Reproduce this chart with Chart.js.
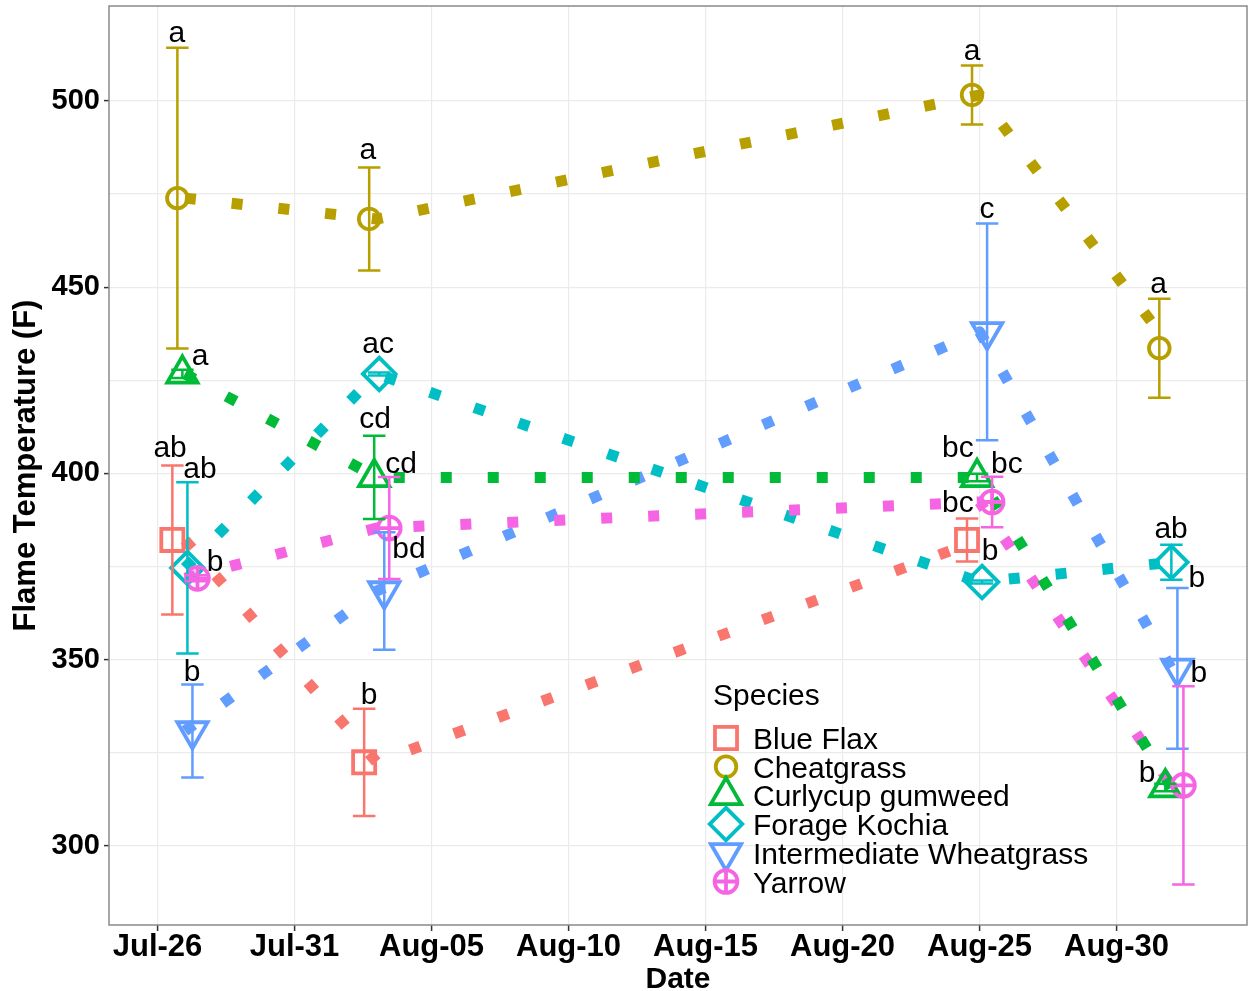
<!DOCTYPE html>
<html>
<head>
<meta charset="utf-8">
<script src="https://cdn.jsdelivr.net/npm/chart.js@4.4.1/dist/chart.umd.min.js"></script>
<style>
html,body{margin:0;padding:0;background:#fff;}
#wrap{width:1248px;height:991px;position:relative;}
canvas{display:block;}
</style>
</head>
<body>
<div id="wrap"><canvas id="c" width="1248" height="991"></canvas></div>
<script>
// ---------- data ----------
const species = ['Blue Flax','Cheatgrass','Curlycup gumweed','Forage Kochia','Intermediate Wheatgrass','Yarrow'];
const sampleDays = [1, 8, 30, 37];          // days after Jul-26: Jul-27, Aug-03, Aug-25, Sep-01
const tickDays = [0, 5, 10, 15, 20, 25, 30, 35];
const tickLabels = ['Jul-26','Jul-31','Aug-05','Aug-10','Aug-15','Aug-20','Aug-25','Aug-30'];
const yTickValues = [300, 350, 400, 450, 500];

const blueFlaxMean      = [382.1, 322.4, 382.1, null];
const cheatgrassMean    = [473.9, 468.3, 501.6, 433.6];
const curlycupMean      = [426.7, 398.9, 398.9, 315.6];
const forageKochiaMean  = [374.6, 426.7, 370.8, 376.1];
const intWheatgrassMean = [330.8, 368.4, 438.0, 347.6];
const yarrowMean        = [371.8, 385.3, 392.3, 316.2];

const blueFlaxSE      = [20.0, 14.4, 5.8, null];
const cheatgrassSE    = [40.4, 13.8, 7.9, 13.3];
const curlycupSE      = [1.1, 11.2, 1.0, 1.0];
const forageKochiaSE  = [23.0, 0.4, 0.4, 4.7];
const intWheatgrassSE = [12.5, 15.8, 29.1, 21.6];
const yarrowSE        = [0.8, 13.7, 6.8, 26.6];

const blueFlaxLetters      = ['ab','b','bc',null];
const cheatgrassLetters    = ['a','a','a','a'];
const curlycupLetters      = ['a','cd','bc','b'];
const forageKochiaLetters  = ['ab','ac','b','ab'];
const intWheatgrassLetters = ['b','bd','c','b'];
const yarrowLetters        = ['b','cd','bc','b'];

// letter anchors in data units [day, value]
const blueFlaxLabelAt      = [[0.46,404.4],[7.72,338.0],[29.21,389.7],null];
const cheatgrassLabelAt    = [[0.71,515.7],[7.68,484.4],[29.73,511.0],[36.53,448.4]];
const curlycupLabelAt      = [[1.55,429.1],[7.94,412.1],[29.21,404.4],[36.11,317.1]];
const forageKochiaLabelAt  = [[1.55,398.7],[8.05,432.3],[30.38,376.7],[36.99,382.6]];
const intWheatgrassLabelAt = [[1.26,344.3],[9.18,377.2],[30.27,468.6],[37.93,369.4]];
const yarrowLabelAt        = [[2.10,373.8],[8.89,400.1],[31.00,400.1],[38.00,344.0]];

// ---------- assembly ----------
const means   = [blueFlaxMean, cheatgrassMean, curlycupMean, forageKochiaMean, intWheatgrassMean, yarrowMean];
const ses     = [blueFlaxSE, cheatgrassSE, curlycupSE, forageKochiaSE, intWheatgrassSE, yarrowSE];
const letters = [blueFlaxLetters, cheatgrassLetters, curlycupLetters, forageKochiaLetters, intWheatgrassLetters, yarrowLetters];
const labelAt = [blueFlaxLabelAt, cheatgrassLabelAt, curlycupLabelAt, forageKochiaLabelAt, intWheatgrassLabelAt, yarrowLabelAt];

const colors = ['#F8766D','#B79F00','#00BA38','#00BFC4','#619CFF','#F564E3'];
const shapes = [
  {pointStyle:'rect', radius:15.6, rotation:0},
  {pointStyle:'circle', radius:10.3, rotation:0},
  {pointStyle:'triangle', radius:17.5, rotation:0},
  {pointStyle:'rectRot', radius:16.3, rotation:0},
  {pointStyle:'triangle', radius:17.5, rotation:180},
  {pointStyle:'circle', radius:11.4, rotation:0, cross:true}
];
const dodgeWidth = 1.1;
const capHalf = 0.41;
const PW = 3.8;

function dodgedX(s, j) {
  let n = 0, idx = 0;
  for (let k = 0; k < means.length; k++) {
    if (means[k][j] != null) { if (k < s) idx++; n++; }
  }
  return sampleDays[j] + (idx - (n - 1) / 2) * dodgeWidth / n;
}

const lineOrder = [20, 19, 15, 18, 17, 16];
const datasets = [];
species.forEach((name, s) => {
  const lineData = [];
  means[s].forEach((v, j) => { if (v != null) lineData.push({x: sampleDays[j], y: v}); });
  datasets.push({
    label: name + ' line', data: lineData, borderColor: colors[s], borderWidth: 11,
    borderDash: [11, 36], borderCapStyle: 'butt', borderJoinStyle: 'round',
    pointRadius: 0, fill: false, tension: 0, order: lineOrder[s]
  });
});
species.forEach((name, s) => {
  const ptData = [];
  means[s].forEach((v, j) => { if (v != null) ptData.push({x: dodgedX(s, j), y: v}); });
  datasets.push({
    label: name, data: ptData, showLine: false,
    pointStyle: shapes[s].pointStyle, pointRadius: shapes[s].radius, pointRotation: shapes[s].rotation,
    pointBorderWidth: PW, pointBorderColor: colors[s], pointBackgroundColor: 'rgba(0,0,0,0)',
    borderColor: colors[s], order: 6 - s
  });
  if (shapes[s].cross) {
    datasets.push({
      label: name + ' cross', data: ptData, showLine: false,
      pointStyle: 'cross', pointRadius: shapes[s].radius, pointBorderWidth: PW,
      pointBorderColor: colors[s], pointBackgroundColor: 'rgba(0,0,0,0)', borderColor: colors[s], order: -1
    });
  }
});

const yGridValues = [];
for (let i = 0; i < yTickValues.length; i++) {
  yGridValues.push(yTickValues[i]);
  if (i < yTickValues.length - 1) yGridValues.push((yTickValues[i] + yTickValues[i + 1]) / 2);
}

// ---------- plugins ----------
const errorBars = {
  id: 'errorBars',
  afterDatasetsDraw(chart) {
    const {ctx, scales: {x, y}} = chart;
    ctx.save();
    ctx.lineWidth = 2.5; ctx.lineCap = 'butt';
    means.forEach((arr, s) => {
      arr.forEach((v, j) => {
        if (v == null) return;
        const xd = dodgedX(s, j), e = ses[s][j];
        const px = x.getPixelForValue(xd);
        const x0 = x.getPixelForValue(xd - capHalf), x1 = x.getPixelForValue(xd + capHalf);
        const yt = y.getPixelForValue(v + e), yb = y.getPixelForValue(v - e);
        ctx.strokeStyle = colors[s];
        ctx.beginPath();
        ctx.moveTo(px, yt); ctx.lineTo(px, yb);
        ctx.moveTo(x0, yt); ctx.lineTo(x1, yt);
        ctx.moveTo(x0, yb); ctx.lineTo(x1, yb);
        ctx.stroke();
      });
    });
    ctx.restore();
  }
};

const letterLabels = {
  id: 'letterLabels',
  afterDatasetsDraw(chart) {
    const {ctx, scales: {x, y}} = chart;
    ctx.save();
    ctx.font = '30px "Liberation Sans", Arial, sans-serif';
    ctx.fillStyle = '#000';
    ctx.textAlign = 'center'; ctx.textBaseline = 'alphabetic';
    letters.forEach((arr, s) => {
      arr.forEach((t, j) => {
        const at = labelAt[s][j];
        if (!t || !at) return;
        ctx.fillText(t, x.getPixelForValue(at[0]), y.getPixelForValue(at[1]));
      });
    });
    ctx.restore();
  }
};

function drawShape(ctx, shape, cx, cy, color) {
  ctx.save();
  ctx.strokeStyle = color; ctx.fillStyle = 'rgba(0,0,0,0)'; ctx.lineWidth = PW;
  const H = Chart.helpers;
  if (H && H.drawPoint) {
    H.drawPoint(ctx, {pointStyle: shape.pointStyle, radius: shape.radius, rotation: shape.rotation, borderWidth: PW}, cx, cy);
    if (shape.cross) H.drawPoint(ctx, {pointStyle: 'cross', radius: shape.radius, rotation: 0, borderWidth: PW}, cx, cy);
  }
  ctx.restore();
}

const customLegend = {
  id: 'customLegend',
  afterDraw(chart) {
    const {ctx} = chart;
    ctx.save();
    ctx.font = '30px "Liberation Sans", Arial, sans-serif';
    ctx.fillStyle = '#000';
    ctx.textAlign = 'left'; ctx.textBaseline = 'alphabetic';
    ctx.fillText('Species', 713, 705);
    species.forEach((name, s) => {
      const cy = 738 + s * 28.7;
      drawShape(ctx, shapes[s], 726, cy, colors[s]);
      ctx.fillStyle = '#000';
      ctx.fillText(name, 753, cy + 11);
    });
    ctx.restore();
  }
};

const panelBorder = {
  id: 'panelBorder',
  afterDraw(chart) {
    const {ctx, chartArea: a} = chart;
    ctx.save();
    ctx.strokeStyle = '#8a8a8a'; ctx.lineWidth = 1.5;
    ctx.strokeRect(a.left, a.top, a.right - a.left, a.bottom - a.top);
    ctx.restore();
  }
};

function noPad(sc) { sc.paddingTop = 0; sc.paddingBottom = 0; sc.paddingLeft = 0; sc.paddingRight = 0; }

// ---------- chart ----------
new Chart(document.getElementById('c'), {
  type: 'line',
  data: {datasets},
  options: {
    responsive: false, animation: false, devicePixelRatio: 1, events: [],
    layout: {autoPadding: false, padding: {top: 6, right: 1, left: 0, bottom: 0}},
    plugins: {legend: {display: false}, tooltip: {enabled: false}},
    scales: {
      x: {
        type: 'linear', min: -1.77, max: 39.76,
        afterBuildTicks: (sc) => { sc.ticks = tickDays.map(v => ({value: v})); },
        afterFit: (sc) => { sc.height = 66; noPad(sc); },
        ticks: {
          autoSkip: false, maxRotation: 0, padding: 1, color: '#000',
          font: {family: '"Liberation Sans", Arial, sans-serif', size: 31, weight: 'bold', lineHeight: 1},
          callback: (v, i) => tickLabels[i]
        },
        grid: {color: '#ebebeb', lineWidth: 1.2, tickLength: 6, tickColor: '#333', tickWidth: 1.5},
        border: {display: false},
        title: {display: true, text: 'Date', color: '#000', padding: {top: 0, bottom: -4},
          font: {family: '"Liberation Sans", Arial, sans-serif', size: 30, weight: 'bold', lineHeight: 1}}
      },
      y: {
        type: 'linear', min: 278.7, max: 525.5,
        afterBuildTicks: (sc) => { sc.ticks = yGridValues.map(v => ({value: v})); },
        afterFit: (sc) => { sc.width = 109; noPad(sc); },
        ticks: {
          autoSkip: false, padding: 4, color: '#000',
          font: {family: '"Liberation Sans", Arial, sans-serif', size: 29, weight: 'bold', lineHeight: 1},
          callback: (v) => yTickValues.includes(v) ? String(v) : ''
        },
        grid: {color: '#ebebeb', lineWidth: 1.2, tickLength: 5, tickWidth: 1.5,
          tickColor: (c) => (c.tick && yTickValues.includes(c.tick.value)) ? '#333' : 'rgba(0,0,0,0)'},
        border: {display: false},
        title: {display: true, text: 'Flame Temperature (F)', color: '#000', padding: {top: 10.5, bottom: 0},
          font: {family: '"Liberation Sans", Arial, sans-serif', size: 31, weight: 'bold', lineHeight: 1}}
      }
    }
  },
  plugins: [errorBars, letterLabels, customLegend, panelBorder]
});
</script>
</body>
</html>
